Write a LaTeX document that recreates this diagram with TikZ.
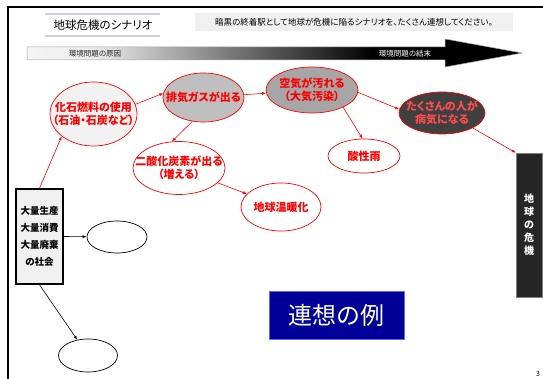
\documentclass[tikz,border=0pt]{standalone}
\usepackage{fontspec}
\setmainfont{Noto Sans CJK JP}[RawFeature=+palt]
\usetikzlibrary{shapes.geometric}
\usetikzlibrary{positioning}
\usetikzlibrary{arrows.meta}
\definecolor{lavender}{RGB}{204,204,245}
\definecolor{navybox}{RGB}{0,0,153}
\pgfdeclarehorizontalshading{flowshade}{100bp}{rgb(0bp)=(.96,.96,.96); rgb(25bp)=(.96,.96,.96); rgb(32bp)=(.92,.92,.92); rgb(60bp)=(0,0,0); rgb(100bp)=(0,0,0)}

\begin{document}
\begin{tikzpicture}[x=1pt,y=-1pt,
    cause/.style={draw=red, ellipse, inner sep=0pt, line width=0.7pt},
    causetext/.style={align=center, text=red, inner sep=0pt, font=\fontsize{11}{13}\selectfont\bfseries},
    blank/.style={draw=black, ellipse, inner sep=0pt, line width=0.7pt, minimum width=60, minimum height=32},
    link/.style={-{Latex[length=4pt,width=3pt]}, red, line width=0.6pt},
    plainlink/.style={-{Latex[length=4pt,width=3pt]}, black, line width=0.6pt},
    band/.style={lavender, line width=2.5pt}]
    \useasboundingbox (0,0) rectangle (543,379);
    % slide frame
    \draw[line width=2pt] (543,7) -- (8,7) -- (8,379);
    % header
    \draw[band] (45,14) -- (160,14);
    \draw[band] (45,36) -- (160,36);
    \node[font=\fontsize{11.5}{13}\selectfont] (title) at (103,25) {地球危機のシナリオ};
    \node[fill=black!6, minimum width=318, minimum height=18, inner sep=0pt, font=\fontsize{8.5}{10}\selectfont] (task) at (354,22) {暗黒の終着駅として地球が危機に陥るシナリオを、たくさん連想してください。};
    % cause -> end arrow
    \shadedraw[shading=flowshade, draw=black!35, line width=0.5pt] (27,47) -- (445,47) -- (445,39) -- (522,53) -- (445,67) -- (445,60) -- (27,60) -- cycle;
    \node[font=\fontsize{7.5}{9}\selectfont, text=black!85] (origin) at (95,53.5) {環境問題の原因};
    \node[font=\fontsize{7.5}{9}\selectfont, text=white] (outcome) at (405,53.5) {環境問題の結末};
    % scenario chain
    \node[cause, fill=black!5, minimum width=87, minimum height=64, label={[causetext]center:{化石燃料の使用\\（石油・石炭など）}}] (fossil) at (93.5,114) {};
    \node[cause, fill=black!25, minimum width=81, minimum height=49, label={[causetext]center:{排気ガスが出る}}] (exhaust) at (203.5,97.5) {};
    \node[cause, fill=black!35, minimum width=92, minimum height=46, label={[causetext]center:{空気が汚れる\\（大気汚染）}}] (airpol) at (312,90) {};
    \node[cause, fill=black!75, minimum width=86, minimum height=42, label={[causetext, text=red!70]center:{たくさんの人が\\病気になる}}] (ill) at (442,113) {};
    \node[cause, fill=white, minimum width=72, minimum height=34, label={[causetext]center:{酸性雨}}] (acid) at (364,156) {};
    \node[cause, fill=white, minimum width=92, minimum height=53, label={[causetext]center:{二酸化炭素が出る\\（増える）}}] (co2) at (179,168) {};
    \node[cause, fill=white, minimum width=80, minimum height=48, label={[causetext]center:{地球温暖化}}] (warming) at (281,207) {};
    % society box and empty ideas
    \node[draw, line width=1.5pt, fill=black!6, minimum width=47, minimum height=95, inner sep=0pt, align=center, font=\fontsize{9.5}{17}\selectfont\bfseries] (society) at (39.5,236.5) {大量生産\\大量消費\\大量廃棄\\の社会};
    \node[blank] (blankA) at (117,237) {};
    \node[blank, minimum width=59, minimum height=33] (blankB) at (88,355.5) {};
    % end of the chain
    \node[draw=black!50, fill=black!85, minimum width=26, minimum height=144, inner sep=0pt, align=center, text=white, font=\fontsize{10}{13}\selectfont\bfseries] (danger) at (529,225) {地\\球\\の\\危\\機};
    \node[draw=blue!60, fill=navybox, minimum width=135, minimum height=48, text=white, font=\fontsize{24}{28}\selectfont] (example) at (336.5,315) {連想の例};
    \node[font=\fontsize{7}{8}\selectfont] (page) at (538,374) {3};

    \draw[link] (society.north) -- (fossil.215);
    \draw[link] (fossil.13) -- (exhaust.174);
    \draw[link] (exhaust) -- (airpol);
    \draw[link] (exhaust.245) -- (co2.105);
    \draw[link] (co2) -- (warming);
    \draw[link] (airpol.-29) -- (acid.95);
    \draw[link] (airpol.-3) -- (ill.175);
    \draw[link] (ill.-26) -- (danger.north west);
    \draw[plainlink] (society.east) -- (blankA);
    \draw[plainlink] (society.south) -- (blankB);
\end{tikzpicture}
\end{document}
